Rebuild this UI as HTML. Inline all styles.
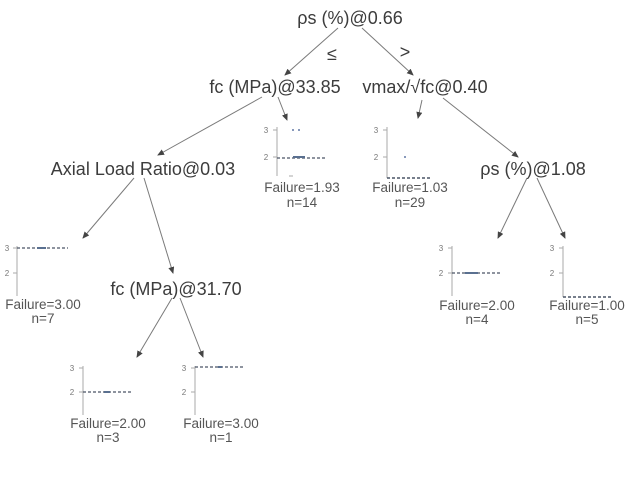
<!DOCTYPE html>
<html><head><meta charset="utf-8"><style>
html,body{margin:0;padding:0;background:#fff;}
svg{display:block;}
.n{font-family:"Liberation Sans",Arial,sans-serif;font-size:18px;fill:#3c3c3c;text-anchor:middle;}
.l{font-family:"Liberation Sans",Arial,sans-serif;font-size:13.5px;fill:#555;text-anchor:middle;}
.t{font-family:"Liberation Sans",Arial,sans-serif;font-size:8px;fill:#777;text-anchor:middle;}
.e{stroke:#7a7a7a;stroke-width:1;fill:none;}
.ax{stroke:#aaa;stroke-width:1;}
.tk{stroke:#aaa;stroke-width:1;}
.d{stroke:#4a5566;stroke-width:1.2;stroke-dasharray:3,2;}
.c{stroke:#5a7090;stroke-width:2;}
</style></head><body>
<svg width="640" height="480" viewBox="0 0 640 480" xmlns="http://www.w3.org/2000/svg">
<defs>
<marker id="a" markerWidth="7" markerHeight="6" refX="6" refY="3" orient="auto" markerUnits="userSpaceOnUse">
<path d="M0,0 L7,3 L0,6 z" fill="#444"/>
</marker>
</defs>
<rect width="640" height="480" fill="#fff"/>

<!-- edges -->
<line class="e" x1="338" y1="28" x2="285" y2="75" marker-end="url(#a)"/>
<line class="e" x1="362" y1="28" x2="413" y2="75" marker-end="url(#a)"/>
<line class="e" x1="262" y1="97" x2="158" y2="155" marker-end="url(#a)"/>
<line class="e" x1="278" y1="97" x2="287" y2="120" marker-end="url(#a)"/>
<line class="e" x1="422" y1="100" x2="418" y2="118" marker-end="url(#a)"/>
<line class="e" x1="443" y1="98" x2="518" y2="157" marker-end="url(#a)"/>
<line class="e" x1="134" y1="178" x2="83" y2="238" marker-end="url(#a)"/>
<line class="e" x1="144" y1="178" x2="173" y2="273" marker-end="url(#a)"/>
<line class="e" x1="172" y1="298" x2="137" y2="357" marker-end="url(#a)"/>
<line class="e" x1="180" y1="298" x2="203" y2="357" marker-end="url(#a)"/>
<line class="e" x1="527" y1="178" x2="498" y2="238" marker-end="url(#a)"/>
<line class="e" x1="537" y1="178" x2="565" y2="238" marker-end="url(#a)"/>

<!-- node labels -->
<text class="n" x="350" y="24">ρs (%)@0.66</text>
<text class="n" x="332" y="60">≤</text>
<text class="n" x="405" y="58">&gt;</text>
<text class="n" x="275" y="93">fc (MPa)@33.85</text>
<text class="n" x="425" y="93">vmax/√fc@0.40</text>
<text class="n" x="143" y="175">Axial Load Ratio@0.03</text>
<text class="n" x="176" y="295">fc (MPa)@31.70</text>
<text class="n" x="533" y="175">ρs (%)@1.08</text>

<!-- leaf 1 -->
<line class="ax" x1="277" y1="127" x2="277" y2="176"/>
<line class="tk" x1="273" y1="130" x2="277" y2="130"/>
<line class="tk" x1="273" y1="157" x2="277" y2="157"/>
<text class="t" x="266" y="133">3</text>
<text class="t" x="266" y="160">2</text>
<line class="d" x1="277" y1="158" x2="327" y2="158"/>
<line class="c" x1="293" y1="157" x2="305" y2="157"/>
<rect x="292" y="129" width="2" height="2" fill="#8899bb"/>
<rect x="298" y="129" width="2" height="2" fill="#8899bb"/>
<line class="tk" x1="289" y1="176" x2="293" y2="176"/>
<text class="l" x="302" y="192">Failure=1.93</text>
<text class="l" x="302" y="207">n=14</text>

<!-- leaf 2 -->
<line class="ax" x1="387" y1="127" x2="387" y2="178"/>
<line class="tk" x1="383" y1="130" x2="387" y2="130"/>
<line class="tk" x1="383" y1="157" x2="387" y2="157"/>
<text class="t" x="376" y="133">3</text>
<text class="t" x="376" y="160">2</text>
<rect x="404" y="156" width="2" height="2" fill="#8899bb"/>
<line class="d" x1="387" y1="178" x2="432" y2="178" style="stroke-width:1.6"/>
<text class="l" x="410" y="192">Failure=1.03</text>
<text class="l" x="410" y="207">n=29</text>

<!-- leaf 3 -->
<line class="ax" x1="17" y1="246" x2="17" y2="296"/>
<line class="tk" x1="13" y1="248" x2="17" y2="248"/>
<line class="tk" x1="13" y1="273" x2="17" y2="273"/>
<text class="t" x="7" y="251">3</text>
<text class="t" x="7" y="276">2</text>
<line class="d" x1="17" y1="248" x2="68" y2="248"/>
<line class="c" x1="37" y1="248" x2="46" y2="248"/>
<text class="l" x="43" y="309">Failure=3.00</text>
<text class="l" x="43" y="323">n=7</text>

<!-- leaf 4 -->
<line class="ax" x1="83" y1="366" x2="83" y2="415"/>
<line class="tk" x1="79" y1="368" x2="83" y2="368"/>
<line class="tk" x1="79" y1="392" x2="83" y2="392"/>
<text class="t" x="72" y="371">3</text>
<text class="t" x="72" y="395">2</text>
<line class="d" x1="83" y1="392" x2="132" y2="392"/>
<line class="c" x1="104" y1="392" x2="110" y2="392"/>
<text class="l" x="108" y="428">Failure=2.00</text>
<text class="l" x="108" y="442">n=3</text>

<!-- leaf 5 -->
<line class="ax" x1="195" y1="366" x2="195" y2="415"/>
<line class="tk" x1="191" y1="368" x2="195" y2="368"/>
<line class="tk" x1="191" y1="392" x2="195" y2="392"/>
<text class="t" x="184" y="371">3</text>
<text class="t" x="184" y="395">2</text>
<line class="d" x1="195" y1="367" x2="243" y2="367"/>
<line class="c" x1="218" y1="367" x2="222" y2="367"/>
<text class="l" x="221" y="428">Failure=3.00</text>
<text class="l" x="221" y="442">n=1</text>

<!-- leaf 6 -->
<line class="ax" x1="452" y1="246" x2="452" y2="296"/>
<line class="tk" x1="448" y1="248" x2="452" y2="248"/>
<line class="tk" x1="448" y1="273" x2="452" y2="273"/>
<text class="t" x="441" y="251">3</text>
<text class="t" x="441" y="276">2</text>
<line class="d" x1="452" y1="273" x2="500" y2="273"/>
<line class="c" x1="465" y1="273" x2="478" y2="273"/>
<text class="l" x="477" y="310">Failure=2.00</text>
<text class="l" x="477" y="324">n=4</text>

<!-- leaf 7 -->
<line class="ax" x1="563" y1="246" x2="563" y2="297"/>
<line class="tk" x1="559" y1="248" x2="563" y2="248"/>
<line class="tk" x1="559" y1="273" x2="563" y2="273"/>
<text class="t" x="552" y="251">3</text>
<text class="t" x="552" y="276">2</text>
<line class="d" x1="563" y1="297" x2="612" y2="297" style="stroke-width:1.6"/>
<text class="l" x="587" y="310">Failure=1.00</text>
<text class="l" x="587" y="324">n=5</text>
</svg>
</body></html>
